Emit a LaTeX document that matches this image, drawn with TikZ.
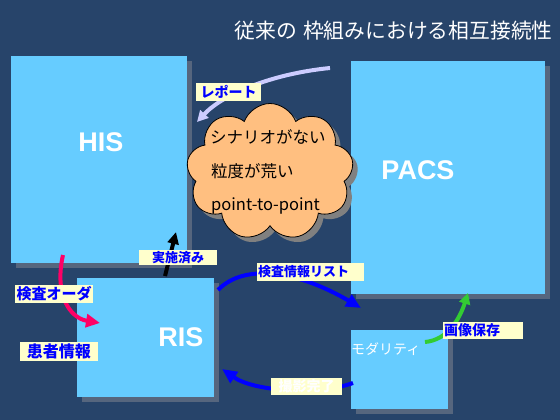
\documentclass[tikz,border=0pt]{standalone}
\usepackage{fontspec}
\setmainfont{Noto Sans CJK JP}
\newfontfamily\latinb{Liberation Sans}
\usetikzlibrary{arrows.meta,shapes.symbols,shadows}
\definecolor{bgc}{HTML}{27446A}
\definecolor{boxc}{HTML}{66CCFF}
\definecolor{shadowc}{HTML}{56667E}
\definecolor{cloudc}{HTML}{FFBF80}
\definecolor{labc}{HTML}{FFFFCC}
\definecolor{lavc}{HTML}{CCCCFF}
\definecolor{pinkc}{HTML}{FF0066}
\definecolor{bluec}{HTML}{0000FF}
\definecolor{greenc}{HTML}{33CC33}
\tikzset{
  sysbox/.style={fill=boxc, draw=none, inner sep=0pt,
    drop shadow={shadow xshift=5pt, shadow yshift=-5pt, fill=shadowc, opacity=1}},
  systext/.style={text=white, font=\latinb\bfseries\fontsize{27}{27}\selectfont, inner sep=0pt},
  lab/.style={fill=labc, text=bluec, font=\bfseries\fontsize{14}{14}\selectfont, inner sep=0pt},
  flow/.style={line width=4pt},
  cloudtext/.style={anchor=west, text=black, font=\fontsize{16.5}{16.5}\selectfont, inner sep=0pt}
}
\begin{document}
\begin{tikzpicture}[x=1pt,y=-1pt]
\fill[bgc] (0,0) rectangle (560,420);
\useasboundingbox (0,0) rectangle (560,420);

% title
\node[anchor=east, text=white, font=\fontsize{20.8}{20.8}\selectfont, inner sep=0pt] (title) at (553,31) {従来の\hspace{6pt}枠組みにおける相互接続性};

% system boxes
\node[sysbox, minimum width=176pt, minimum height=207pt] (his) at (99,159.5) {};
\node[sysbox, minimum width=194pt, minimum height=233pt] (pacs) at (448,177.5) {};
\node[sysbox, minimum width=137pt, minimum height=119pt] (ris) at (145.5,337.5) {};
\node[sysbox, minimum width=97pt, minimum height=79pt] (mod) at (399.5,369.5) {};

\node[systext] (histxt) at (101,142) {HIS};
\node[systext] (pacstxt) at (418,170) {PACS};
\node[systext] (ristxt) at (181,337) {RIS};
\node[anchor=west, text=white, font=\fontsize{14}{14}\selectfont, inner sep=0pt] (modtxt) at (351,349) {モダリティ};

% cloud
\node[cloud, cloud puffs=9, cloud puff arc=140, cloud ignores aspect, minimum width=167pt, minimum height=137pt,
  fill=cloudc, draw=black, line width=0.8pt,
  drop shadow={shadow xshift=5pt, shadow yshift=-5pt, fill=gray, opacity=1}] (cl) at (270,172) {};
\node[cloudtext] (c1) at (210,137) {シナリオがない};
\node[cloudtext] (c2) at (211,171) {粒度が荒い};
\node[cloudtext] (c3) at (211,206) {point-to-point};

% connector end points
\coordinate (rp1) at (330,68);
\coordinate (rp2) at (197,122);
\coordinate (js1) at (165,276);
\coordinate (js2) at (176,232);
\coordinate (od1) at (63,255);
\coordinate (od2) at (100,323);
\coordinate (ls1) at (218,290);
\coordinate (ls2) at (361,308);
\coordinate (ss1) at (353,383);
\coordinate (ss2) at (222,369);
\coordinate (gs1) at (425,342);
\coordinate (gs2) at (468,293);

% connectors
\draw[flow, lavc, -{Triangle[length=11pt,width=11pt]}] (rp1) .. controls (270,74) and (222,95) .. (rp2);
\draw[flow, black, -{Triangle[length=12pt,width=11pt]}] (js1) -- (js2);
\draw[flow, pinkc, -{Triangle[length=14pt,width=13pt]}] (od1) .. controls (54,295) and (70,318) .. (od2);
\draw[flow, bluec, -{Triangle[length=15pt,width=13pt]}] (ls1) .. controls (245,262) and (300,272) .. (ls2);
\draw[flow, bluec, -{Triangle[length=15pt,width=13pt]}] (ss1) .. controls (320,395) and (255,392) .. (ss2);
\draw[flow, greenc, -{Triangle[length=11pt,width=11pt]}] (gs1) .. controls (448,340) and (460,318) .. (gs2);

% labels
\node[lab, minimum width=65pt, minimum height=18pt] (lrep) at (228.5,92) {レポート};
\node[lab, minimum width=78pt, minimum height=15pt, font=\bfseries\fontsize{13}{13}\selectfont] (ljs) at (178,257.5) {実施済み};
\node[lab, minimum width=78pt, minimum height=18pt, font=\bfseries\fontsize{15}{15}\selectfont] (lod) at (54,294) {検査オーダ};
\node[lab, minimum width=78pt, minimum height=19pt, font=\bfseries\fontsize{16}{16}\selectfont] (lpt) at (59,351.5) {患者情報};
\node[lab, minimum height=18pt, text width=105pt, inner xsep=1pt, align=left, font=\bfseries\fontsize{13}{13}\selectfont] (lls) at (310.5,272) {検査情報リスト};
\node[lab, minimum width=71pt, minimum height=17pt, text=white] (lss) at (306.5,386.5) {撮影完了};
\node[lab, minimum height=17pt, text width=78pt, inner xsep=1pt, align=left] (lgs) at (483,330.5) {画像保存};
\end{tikzpicture}
\end{document}
